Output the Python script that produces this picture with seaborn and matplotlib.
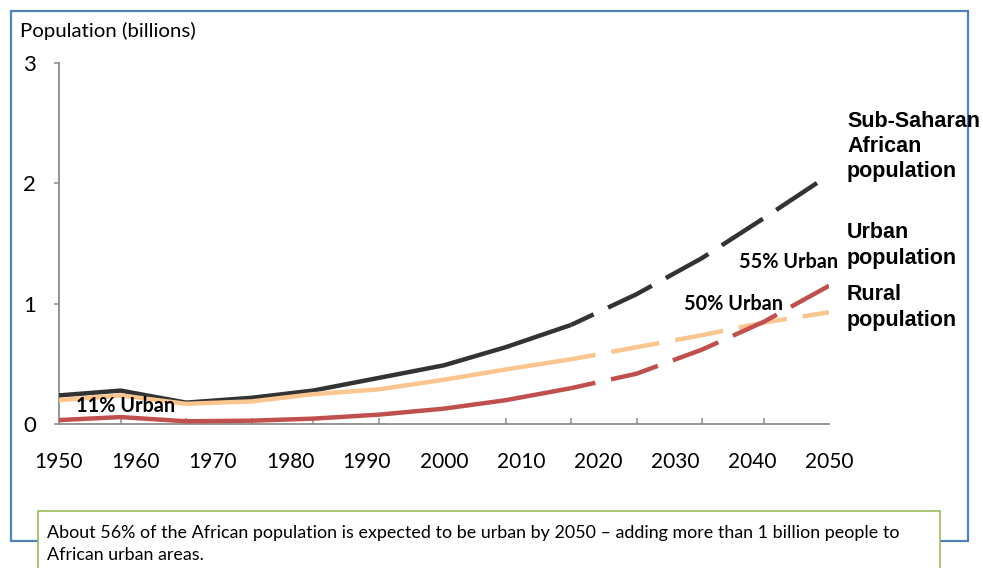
import matplotlib
matplotlib.use("Agg")
import matplotlib.pyplot as plt
from matplotlib.patches import Rectangle
from matplotlib.ticker import FixedLocator
import numpy as np
import pandas as pd
import seaborn as sns

# Estimates (solid) and projections (dashed), population in billions
est_years = [1950, 1958, 1966.5, 1975, 1983, 1991.5, 2000, 2008, 2016.5]
est_total = [0.24, 0.28, 0.18, 0.22, 0.28, 0.385, 0.49, 0.64, 0.825]
est_rural = [0.20, 0.24, 0.17, 0.19, 0.25, 0.29, 0.37, 0.455, 0.54]
est_urban = [0.035, 0.06, 0.025, 0.03, 0.047, 0.08, 0.13, 0.20, 0.30]

proj_years = [2016.5, 2025, 2033.5, 2041.5, 2050]
proj_total = [0.825, 1.08, 1.38, 1.71, 2.07]
proj_rural = [0.54, 0.64, 0.74, 0.845, 0.93]
proj_urban = [0.30, 0.42, 0.62, 0.85, 1.15]

x_labels = [1950, 1960, 1970, 1980, 1990, 2000, 2010, 2020, 2030, 2040, 2050]
y_ticks = [0, 1, 2, 3]

series_order = ["total", "rural", "urban"]
palette = {"total": "#333333", "rural": "#FAC58F", "urban": "#C0504D"}


def long_frame(years, total, rural, urban):
    parts = []
    for name, vals in zip(series_order, [total, rural, urban]):
        parts.append(pd.DataFrame({"year": years, "pop": vals, "series": name}))
    return pd.concat(parts, ignore_index=True)


est = long_frame(est_years, est_total, est_rural, est_urban)
proj = long_frame(proj_years, proj_total, proj_rural, proj_urban)

sns.set_theme(style="white")
plt.rcParams["font.family"] = ["Lato", "DejaVu Sans"]

W, H = 983, 568
fig = plt.figure(figsize=(W / 100, H / 100), dpi=100)


def fx(x):
    return x / W


def fy(y):
    return 1 - y / H


ax = fig.add_axes([fx(59), fy(424.3), fx(829) - fx(59), fy(63) - fy(424.3)])

lw = 3.2
sns.lineplot(data=est, x="year", y="pop", hue="series", hue_order=series_order,
             palette=palette, estimator=None, errorbar=None, sort=False,
             linewidth=lw, legend=False, ax=ax, zorder=3)
sns.lineplot(data=proj, x="year", y="pop", hue="series", hue_order=series_order,
             palette=palette, estimator=None, errorbar=None, sort=False,
             linewidth=lw, legend=False, ax=ax, zorder=3,
             linestyle=(5.4, (11, 3.6)))
for ln in ax.lines:
    ln.set_solid_capstyle("butt")
    ln.set_dash_capstyle("butt")

ax.set_xlim(1950, 2050)
ax.set_ylim(0, 3)
ax.set_xlabel("")
ax.set_ylabel("")

sns.despine(ax=ax)
for side in ("left", "bottom"):
    ax.spines[side].set_color("#8C8C8C")
    ax.spines[side].set_linewidth(1.3)

ax.set_xticks(x_labels)
ax.set_xticklabels([str(v) for v in x_labels], fontsize=15, color="black")
ax.xaxis.set_minor_locator(FixedLocator(est_years + proj_years[1:]))
ax.tick_params(axis="x", which="major", length=0, pad=20)
ax.tick_params(axis="x", which="minor", direction="in", length=4.5,
               width=1.1, color="#8C8C8C", bottom=True)
ax.set_yticks(y_ticks)
ax.set_yticklabels([str(v) for v in y_ticks], fontsize=16, color="black")
ax.tick_params(axis="y", which="major", direction="out", length=3.6,
               width=1.1, color="#8C8C8C", pad=13, left=True)

# Urban share annotations
ann_font = dict(fontsize=14.3, fontweight="bold", color="black",
                ha="center", va="center")
fig.text(fx(125.5), fy(406), "11% Urban", **ann_font)
fig.text(fx(733.5), fy(304), "50% Urban", **ann_font)
fig.text(fx(789), fy(262), "55% Urban", **ann_font)

# Series labels at the right end of the lines
lab_font = dict(fontsize=15.5, fontweight="bold", color="black",
                ha="left", va="baseline", family=["Liberation Sans", "DejaVu Sans"])
for text, base in [("Sub-Saharan", 127), ("African", 152), ("population", 177),
                   ("Urban", 238.5), ("population", 264),
                   ("Rural", 300), ("population", 326)]:
    fig.text(fx(847), fy(base), text, **lab_font)

fig.text(fx(20), fy(31), "Population (billions)", fontsize=14.7,
         ha="left", va="center", color="black")

# Outer frame and caption box
fig.patches.append(Rectangle((fx(11), fy(541)), fx(968) - fx(11), fy(11) - fy(541),
                             transform=fig.transFigure, fill=False,
                             edgecolor="#4F81BD", linewidth=1.6, zorder=1))
fig.patches.append(Rectangle((fx(38), fy(600)), fx(940) - fx(38), fy(511) - fy(600),
                             transform=fig.transFigure, facecolor="white",
                             edgecolor="#9BBB59", linewidth=1.2, zorder=2))
fig.text(fx(47), fy(533),
         "About 56% of the African population is expected to be urban by 2050 \u2013 "
         "adding more than 1 billion people to",
         fontsize=12.9, ha="left", va="center", color="black", zorder=3)
fig.text(fx(47), fy(555), "African urban areas.",
         fontsize=12.9, ha="left", va="center", color="black", zorder=3)

fig.savefig("out.png", dpi=100)
